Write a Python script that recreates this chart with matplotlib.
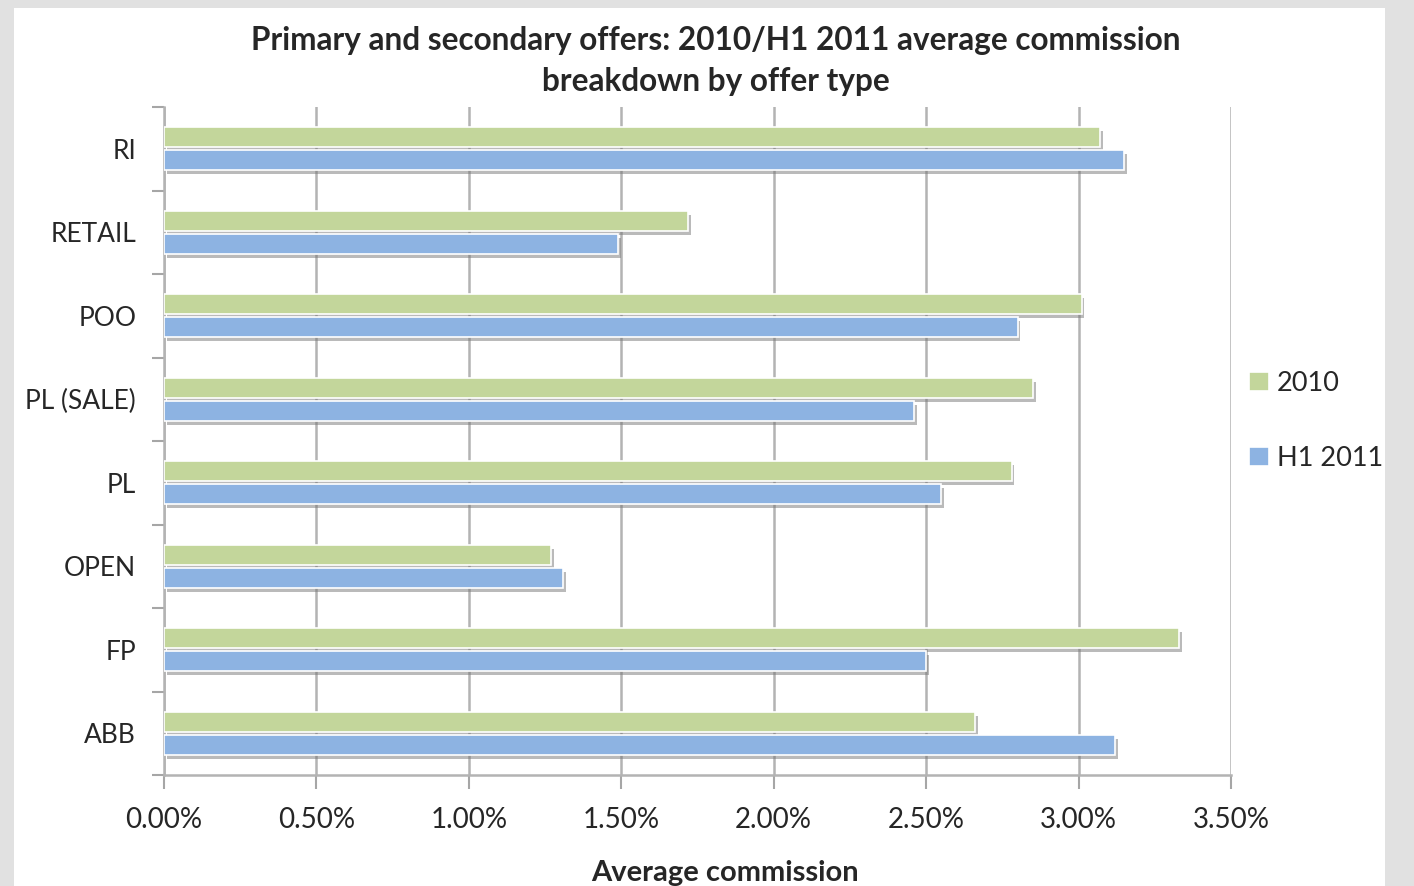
import matplotlib
matplotlib.use("Agg")
import matplotlib.pyplot as plt
import matplotlib.patheffects as pe
from matplotlib.patches import Rectangle
from matplotlib.ticker import FuncFormatter, FixedLocator
import numpy as np

plt.rcParams['font.family'] = ['Lato', 'DejaVu Sans']

categories = ["RI", "RETAIL", "POO", "PL (SALE)", "PL", "OPEN", "FP", "ABB"]
vals_2010 = [3.07, 1.72, 3.01, 2.85, 2.78, 1.27, 3.33, 2.66]
vals_h1_2011 = [3.15, 1.49, 2.80, 2.46, 2.55, 1.31, 2.50, 3.12]
series_names = ["2010", "H1 2011"]
xticks = [0.0, 0.5, 1.0, 1.5, 2.0, 2.5, 3.0, 3.5]

c_green = "#c3d69b"
c_blue = "#8db3e2"
text_col = "#262626"

fig = plt.figure(figsize=(14.14, 8.86), dpi=100)
fig.patch.set_facecolor("#e1e1e1")
fig.patches.append(Rectangle((14/1414, 0), (1385-14)/1414, 1-8/886,
                             transform=fig.transFigure, facecolor="white",
                             edgecolor="none", zorder=-10))

ax = fig.add_axes([164/1414, 1-775/886, (1231-164)/1414, (775-107)/886])
ax.set_zorder(2)
ax.set_facecolor("none")

n = len(categories)
y = np.arange(n)[::-1]  # RI at top
h = 0.24
off = 0.138
shadow = [pe.SimplePatchShadow(offset=(2, -3), shadow_rgbFace="#777777", alpha=0.5), pe.Normal()]

b1 = ax.barh(y + off, vals_2010, height=h, color=c_green, edgecolor="white",
             linewidth=1.2, label=series_names[0], zorder=3)
b2 = ax.barh(y - off, vals_h1_2011, height=h, color=c_blue, edgecolor="white",
             linewidth=1.2, label=series_names[1], zorder=3)
for b in list(b1) + list(b2):
    b.set_path_effects(shadow)

ax.set_xlim(0, 3.5)
ax.set_ylim(-0.5, n - 0.5)
ax.set_xticks(xticks)
ax.xaxis.set_major_formatter(FuncFormatter(lambda v, p: f"{v:.2f}%"))
ax.set_yticks(y)
ax.set_yticklabels(categories)
ax.yaxis.set_minor_locator(FixedLocator(np.arange(-0.5, n, 1.0)))
ax.tick_params(axis='y', which='major', length=0, pad=20, labelsize=19, labelcolor=text_col)
ax.tick_params(axis='y', which='minor', length=9, width=1.5, color="#a6a6a6")
ax.tick_params(axis='x', which='major', length=10, width=1.5, color="#a6a6a6",
               labelsize=20, labelcolor=text_col, pad=13)

ax.grid(axis='x', color="#b3b3b3", linewidth=1.8, zorder=0)
ax.set_axisbelow(True)
for s in ["top", "right"]:
    ax.spines[s].set_visible(False)
for s in ["left", "bottom"]:
    ax.spines[s].set_color("#b3b3b3")
    ax.spines[s].set_linewidth(1.8)

ax.set_xlabel("Average commission", fontsize=21, fontweight='bold', color=text_col)
ax.xaxis.set_label_coords(0.526, -0.127)
fig.text(0.506, 1-61/886, "Primary and secondary offers: 2010/H1 2011 average commission\nbreakdown by offer type",
         ha='center', va='center', fontsize=22.7, fontweight='bold', color=text_col, linespacing=1.5)

leg = ax.legend(loc='center left', bbox_to_anchor=(0.986, 0.53), frameon=False,
                fontsize=19.5, handlelength=0.75, handleheight=0.75, handletextpad=0.3,
                labelspacing=1.85, borderaxespad=0.8)
for t in leg.get_texts():
    t.set_color(text_col)
for hnd in leg.legend_handles:
    hnd.set_path_effects([])

fig.savefig("out.png", dpi=100, facecolor=fig.get_facecolor())
